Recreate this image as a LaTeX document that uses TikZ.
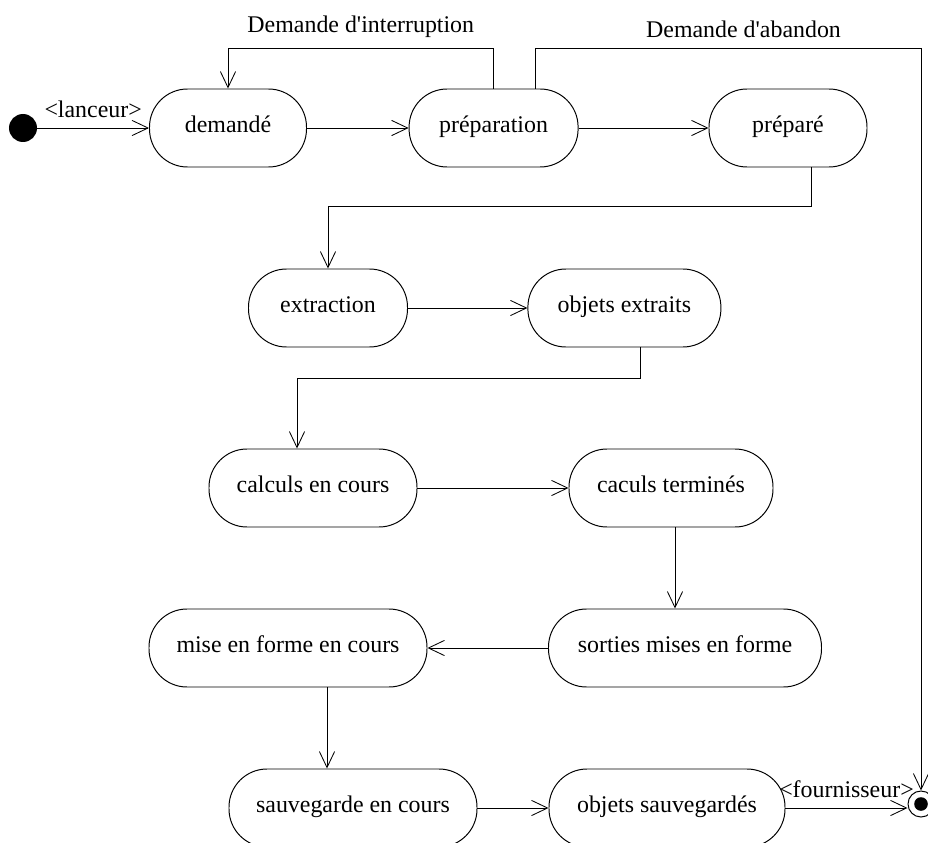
\documentclass[tikz,border=0pt]{standalone}
\usepackage{fontspec}
\setmainfont{Liberation Serif}[Ligatures=TeXOff]
\usepackage{tikz}
\usetikzlibrary{arrows.meta}

\begin{document}
\begin{tikzpicture}[
  etat/.style={draw, rectangle, rounded corners=0.95cm, minimum height=1.95cm, inner sep=0pt, text height=1.6ex, text depth=0.3ex, line width=0.7pt},
  trans/.style={->, line width=0.6pt},
  >={Straight Barb[length=4mm, width=3.8mm]},
  font=\fontsize{17}{20}\selectfont
]
\useasboundingbox (0,0) rectangle (23.2,-21.075);
\node[fill, circle, minimum size=7mm, inner sep=0pt] (I) at (0.575,-3.2) {};
\node[etat, minimum width=3.925cm] (D) at (5.7,-3.2) {demandé};
\node[etat, minimum width=4.225cm] (P) at (12.34,-3.2) {préparation};
\node[etat, minimum width=3.95cm] (Q) at (19.7,-3.2) {préparé};
\node[etat, minimum width=3.975cm] (E) at (8.2,-7.7) {extraction};
\node[etat, minimum width=4.825cm] (X) at (15.61,-7.7) {objets extraits};
\node[etat, minimum width=5.2cm] (C) at (7.825,-12.2) {calculs en cours};
\node[etat, minimum width=5.1cm] (T) at (16.775,-12.2) {caculs terminés};
\node[etat, minimum width=6.95cm] (M) at (7.2,-16.2) {mise en forme en cours};
\node[etat, minimum width=6.825cm] (S) at (17.125,-16.2) {sorties mises en forme};
\node[etat, minimum width=6.2cm] (V) at (8.825,-20.2) {sauvegarde en cours};
\node[etat, minimum width=5.9cm] (O) at (16.675,-20.2) {objets sauvegardés};
\node[draw, circle, minimum size=6.5mm, inner sep=0pt, line width=0.7pt] (F) at (23.025,-20.1) {};
\node[fill, circle, minimum size=3.4mm, inner sep=0pt] (Fp) at (F) {};
\draw[trans] (I) -- node[above=4pt] {<lanceur>} (D);
\draw[trans] (D) -- (P);
\draw[trans] (P) -- (Q);
\draw[trans] (P.north) -- ++(0,1) -| node[pos=0.25, above=4pt] {Demande d'interruption} (D.north);
\draw[trans] ([xshift=1.04cm]P.north) -- ++(0,1) -| node[pos=0.27, above=4pt] {Demande d'abandon} (F.north);
\draw[trans] ([xshift=0.575cm]Q.south) -- ++(0,-0.975) -| (E.north);
\draw[trans] (E) -- (X);
\draw[trans] ([xshift=0.41cm]X.south) -- ++(0,-0.775) -| ([xshift=-0.4cm]C.north);
\draw[trans] (C) -- (T);
\draw[trans] ([xshift=0.1cm]T.south) -- ([xshift=0.1cm]T.south |- S.north);
\draw[trans] (S) -- (M);
\draw[trans] ([xshift=0.975cm]M.south) -- ([xshift=0.975cm]M.south |- V.north);
\draw[trans] (V) -- (O);
\draw[trans] (O) -- node[above=4pt] {<fournisseur>} (O -| F.west);
\end{tikzpicture}
\end{document}
